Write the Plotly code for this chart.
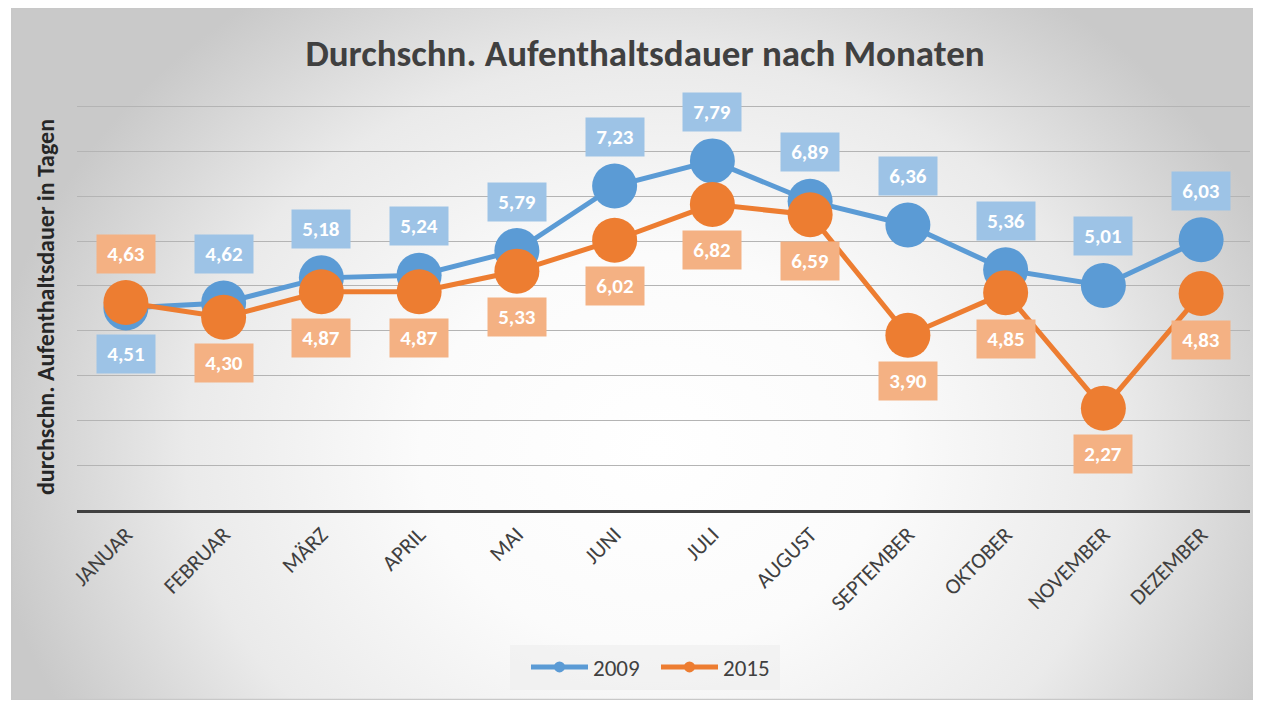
import base64
import plotly.graph_objects as go

months = ["JANUAR", "FEBRUAR", "MÄRZ", "APRIL", "MAI", "JUNI", "JULI",
          "AUGUST", "SEPTEMBER", "OKTOBER", "NOVEMBER", "DEZEMBER"]
values_2009 = [4.51, 4.62, 5.18, 5.24, 5.79, 7.23, 7.79, 6.89, 6.36, 5.36, 5.01, 6.03]
values_2015 = [4.63, 4.30, 4.87, 4.87, 5.33, 6.02, 6.82, 6.59, 3.90, 4.85, 2.27, 4.83]
label_side_2009 = [-1, 1, 1, 1, 1, 1, 1, 1, 1, 1, 1, 1]
label_side_2015 = [1, -1, -1, -1, -1, -1, -1, -1, -1, -1, -1, -1]

FONT = "Carlito, Lato, sans-serif"
BLUE, ORANGE = "#5b9bd5", "#ed7d31"
BLUE_L, ORANGE_L = "#9dc3e6", "#f4b183"

OFF = 8  # page body margin of the html page
W, H = 1261 - OFF, 701 - OFF
UNIT = 44.78
YMAX = 9.06
ML, MR, MB = 77 - OFF, 11, 701 - 510
MT = int(round(510 - YMAX * UNIT)) - OFF
PW, PH = W - ML - MR, H - MT - MB


def px_x(p):  # page pixel -> paper x
    return (p - OFF - ML) / PW


def px_y(p):  # page pixel -> paper y
    return 1 - (p - OFF - MT) / PH


# background: radial gradient panel with thin border (page px coords)
bx0, by0, bx1, by1 = 11, 7, 1259, 700
bw, bh = bx1 - bx0, by1 - by0
gcx, gcy, grx, gry = 655 - bx0, 450 - by0, 670, 560
svg = f'''<svg xmlns="http://www.w3.org/2000/svg" width="{bw}" height="{bh}" viewBox="0 0 {bw} {bh}" preserveAspectRatio="none">
<defs><radialGradient id="g" gradientUnits="userSpaceOnUse" cx="{gcx}" cy="{gcy}" r="{grx}"
 gradientTransform="translate({gcx} {gcy}) scale(1 {gry/grx:.4f}) translate({-gcx} {-gcy})">
<stop offset="0" stop-color="#ffffff"/><stop offset="0.35" stop-color="#fbfbfb"/>
<stop offset="0.7" stop-color="#eaeaea"/><stop offset="1" stop-color="#c9c9c9"/></radialGradient></defs>
<rect x="0.5" y="0.5" width="{bw-1}" height="{bh-1}" fill="url(#g)" stroke="#c8c8c8" stroke-width="1.5"/></svg>'''
src = "data:image/svg+xml;base64," + base64.b64encode(svg.encode()).decode()

fig = go.Figure()
for name, vals, col in [("2009", values_2009, BLUE), ("2015", values_2015, ORANGE)]:
    fig.add_trace(go.Scatter(
        x=list(range(len(months))), y=vals, name=name, mode="lines+markers",
        line=dict(color=col, width=5), marker=dict(color=col, size=45),
        hoverinfo="skip", showlegend=False, legendgroup=name))
for name, col in [("2009", BLUE), ("2015", ORANGE)]:
    fig.add_trace(go.Scatter(
        x=[None], y=[None], name=name, mode="lines+markers",
        line=dict(color=col, width=5), marker=dict(color=col, size=11),
        showlegend=True, legendgroup=name))

annotations = []
for vals, sides, bg in [(values_2009, label_side_2009, BLUE_L), (values_2015, label_side_2015, ORANGE_L)]:
    for i, v in enumerate(vals):
        s = sides[i]
        annotations.append(dict(
            x=i, y=v, xref="x", yref="y", text=f"{v:.2f}".replace(".", ","),
            showarrow=False, yshift=49 if s > 0 else -46,
            bgcolor=bg, width=58, height=38, borderpad=0,
            font=dict(family=FONT, size=21, color="white", weight="bold")))

fig.update_layout(
    width=W, height=H, margin=dict(l=ML, r=MR, t=MT, b=MB),
    paper_bgcolor="white", plot_bgcolor="rgba(0,0,0,0)",
    images=[dict(source=src, xref="paper", yref="paper",
                 x=px_x(bx0), y=px_y(by0),
                 sizex=bw / PW, sizey=bh / PH, xanchor="left", yanchor="top",
                 sizing="stretch", layer="below")],
    shapes=[dict(type="rect", xref="paper", yref="paper", layer="below",
                 x0=px_x(510), x1=px_x(780), y0=px_y(690), y1=px_y(645),
                 fillcolor="rgba(236,236,236,0.55)", line=dict(width=0))],
    title=dict(text="<b>Durchschn. Aufenthaltsdauer nach Monaten</b>",
               x=(645 - OFF) / W, xref="container", xanchor="center",
               y=1 - (53 - OFF) / H, yref="container", yanchor="middle",
               font=dict(family=FONT, size=37, color="#404040")),
    xaxis=dict(tickmode="array", tickvals=list(range(len(months))), ticktext=months,
               range=[-0.5, len(months) - 0.5], tickangle=-45,
               showgrid=False, zeroline=False, showline=True, linecolor="#404040",
               linewidth=3, ticks="", tickfont=dict(family=FONT, size=22, color="#404040")),
    yaxis=dict(range=[0, YMAX], tickmode="array", tickvals=list(range(0, 10)),
               showticklabels=False, showgrid=True,
               gridcolor="#b4b4b4", gridwidth=1, zeroline=False, showline=False,
               ticks="",
               title=dict(text="<b>durchschn. Aufenthaltsdauer in Tagen</b>", standoff=14,
                          font=dict(family=FONT, size=24, color="#262626"))),
    legend=dict(orientation="h", x=(531 - 5 - OFF) / W, xref="container", xanchor="left",
                y=1 - (667 - OFF) / H, yref="container", yanchor="middle",
                bgcolor="rgba(0,0,0,0)", itemwidth=57, entrywidth=58,
                font=dict(family=FONT, size=23, color="#404040")),
    annotations=annotations,
)

fig.write_html("out.html")
